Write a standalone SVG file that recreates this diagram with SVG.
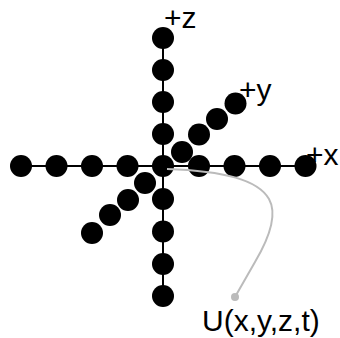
<svg xmlns="http://www.w3.org/2000/svg" width="340" height="338" viewBox="0 0 340 338">
<style>
.axis{stroke:#000;stroke-width:2;fill:none}
.pt{fill:#000}
.lbl{font-family:"Liberation Sans",Arial,sans-serif;font-size:30px;fill:#000}
.lead{stroke:#bbbbbb;stroke-width:2;fill:none}
</style>
<g id="connectors">
<line class="axis" x1="21" y1="166" x2="305" y2="166"/>
<line class="axis" x1="163" y1="38" x2="163" y2="296"/>
</g>
<g id="x-axis">
<circle class="pt" cx="21" cy="166" r="11"/>
<circle class="pt" cx="56.5" cy="166" r="11"/>
<circle class="pt" cx="92" cy="166" r="11"/>
<circle class="pt" cx="127.5" cy="166" r="11"/>
<circle class="pt" cx="199" cy="166" r="11"/>
<circle class="pt" cx="234.5" cy="166" r="11"/>
<circle class="pt" cx="270" cy="166" r="11"/>
<circle class="pt" cx="305.5" cy="166" r="11"/>
</g>
<g id="z-axis">
<circle class="pt" cx="163" cy="38" r="11"/>
<circle class="pt" cx="163" cy="70" r="11"/>
<circle class="pt" cx="163" cy="102" r="11"/>
<circle class="pt" cx="163" cy="134" r="11"/>
<circle class="pt" cx="163" cy="199" r="11"/>
<circle class="pt" cx="163" cy="231.5" r="11"/>
<circle class="pt" cx="163" cy="264" r="11"/>
<circle class="pt" cx="163" cy="296" r="11"/>
</g>
<g id="y-axis">
<circle class="pt" cx="182" cy="152" r="11"/>
<circle class="pt" cx="199" cy="134.5" r="11"/>
<circle class="pt" cx="217" cy="119" r="11"/>
<circle class="pt" cx="235.5" cy="103.5" r="11"/>
<circle class="pt" cx="145" cy="183" r="11"/>
<circle class="pt" cx="128" cy="200" r="11"/>
<circle class="pt" cx="110" cy="215" r="11"/>
<circle class="pt" cx="92" cy="233" r="11"/>
</g>
<g id="origin">
<circle class="pt" cx="163" cy="166" r="11"/>
</g>
<g id="labels">
<text class="lbl" x="164" y="27.5">+z</text>
<text class="lbl" x="239" y="100">+y</text>
<text class="lbl" x="306" y="165">+x</text>
</g>
<g id="leader">
<path class="lead" d="M167,169 C225,171 258,180 269,199 C278,215 268,240 255,262 L235,297"/>
<circle cx="235" cy="297" r="4" fill="#bbbbbb"/>
</g>
<g id="u-label">
<text class="lbl" x="202" y="331">U(x,y,z,t)</text>
</g>
</svg>
